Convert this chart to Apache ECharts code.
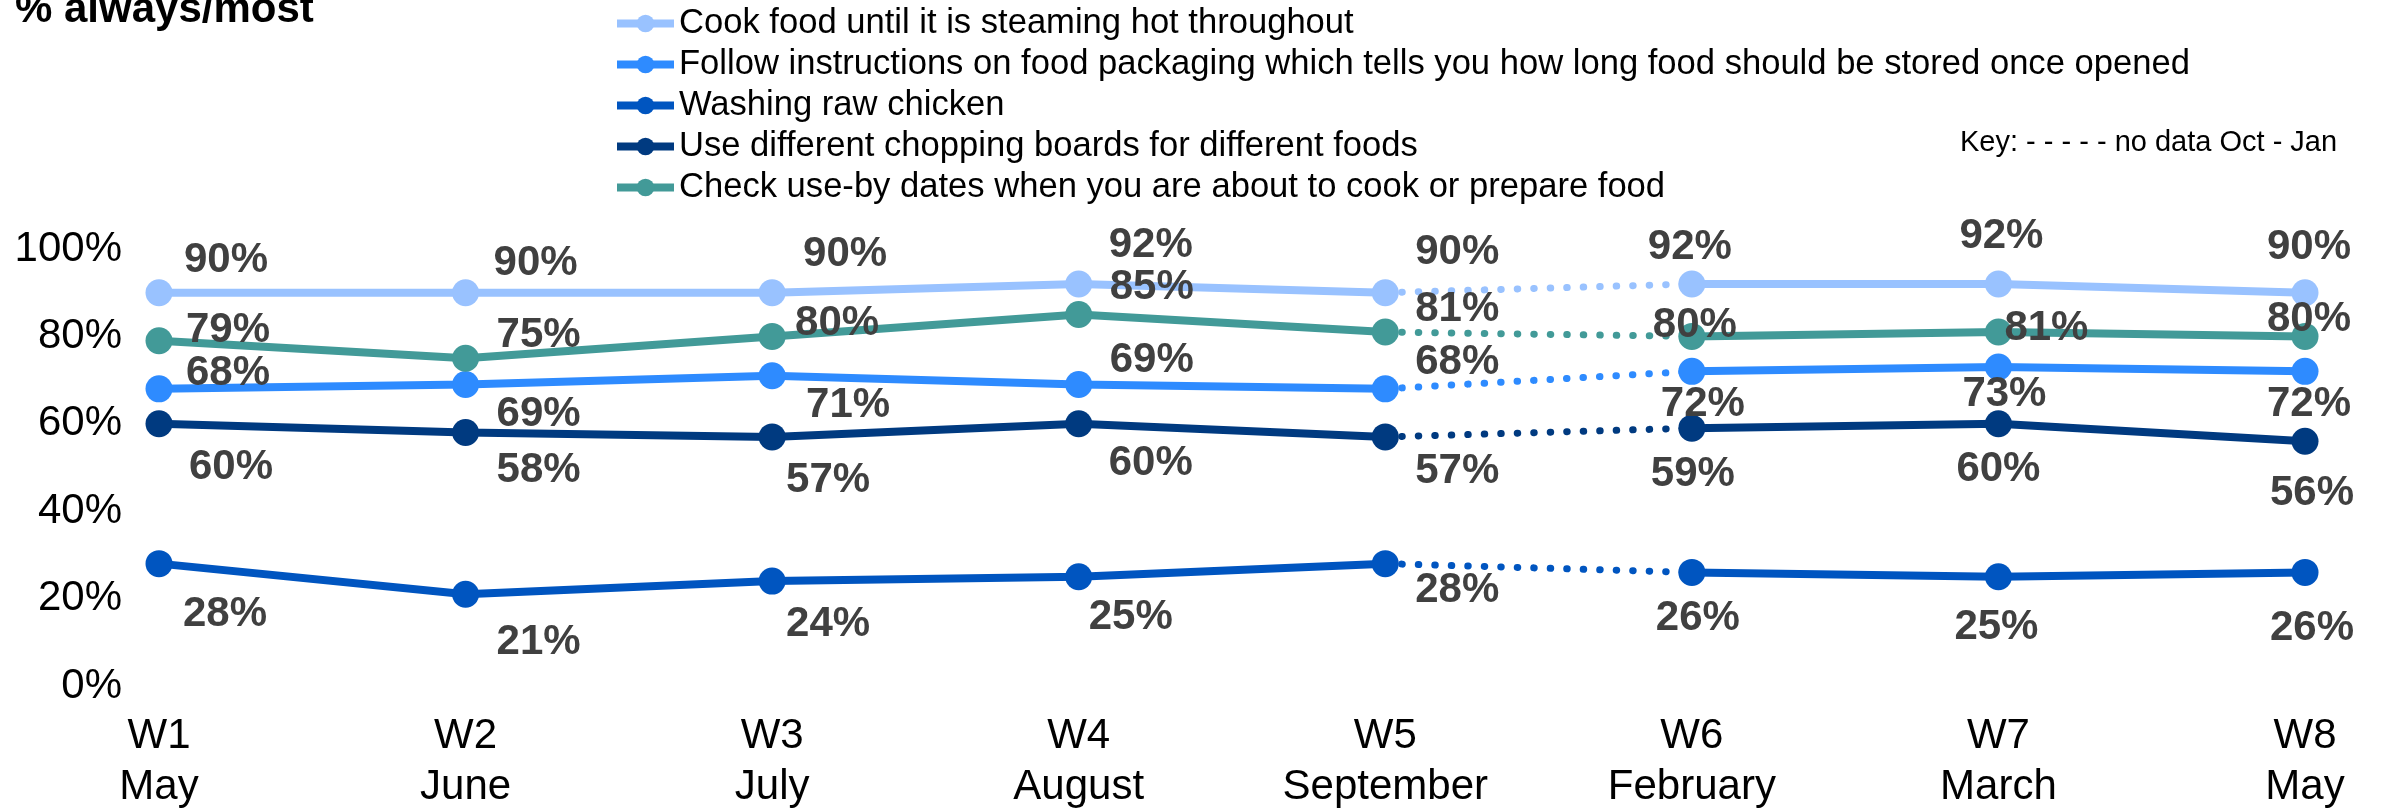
<!DOCTYPE html>
<html>
<head>
<meta charset="utf-8">
<script src="https://cdn.jsdelivr.net/npm/echarts@6/dist/echarts.min.js"></script>
<style>
html, body { margin: 0; padding: 0; background: #fff; }
#main { width: 2387px; height: 808px; }
</style>
</head>
<body>
<div id="main"></div>
<script>
// waves and fieldwork months
const waves = ['W1', 'W2', 'W3', 'W4', 'W5', 'W6', 'W7', 'W8'];
const months = ['May', 'June', 'July', 'August', 'September', 'February', 'March', 'May'];

// % always/most, per wave
const cookHot = [90, 90, 90, 92, 90, 92, 92, 90];
const followPack = [68, 69, 71, 69, 68, 72, 73, 72];
const washChicken = [28, 21, 24, 25, 28, 26, 25, 26];
const boards = [60, 58, 57, 60, 57, 59, 60, 56];
const useBy = [79, 75, 80, 85, 81, 80, 81, 80];

const names = [
    'Cook food until it is steaming hot throughout',
    'Follow instructions on food packaging which tells you how long food should be stored once opened',
    'Washing raw chicken',
    'Use different chopping boards for different foods',
    'Check use-by dates when you are about to cook or prepare food'
];
const yTicks = [0, 20, 40, 60, 80, 100];
const lastBeforeGap = 4; // W5, no data Oct - Jan after it

// styling: colours and label nudges (px from the marker centre)
const colors = ['#99C2FF', '#2E8BFF', '#0055C0', '#003A80', '#429A98'];
const labelNudge = [
    [[67, -32], [70, -29], [73, -38], [72, -39], [72, -40], [-2, -37], [3, -48], [4, -45]],
    [[69, -15], [73, 30], [76, 30], [73, -24], [72, -26], [11, 33], [6, 27], [4, 33]],
    [[66, 51], [73, 48], [56, 43], [52, 41], [72, 27], [6, 46], [-2, 51], [7, 56]],
    [[72, 44], [73, 38], [56, 44], [72, 40], [72, 35], [1, 46], [0, 46], [7, 52]],
    [[69, -10], [73, -23], [65, -13], [73, -27], [72, -23], [3, -11], [48, -4], [4, -17]]
];
const allValues = [cookHot, followPack, washChicken, boards, useBy];

const font = '"Liberation Sans", Arial, sans-serif';

function makeSeries(k) {
    const vals = allValues[k], color = colors[k], name = names[k];
    const item = (v, i) => ({ value: v, label: { offset: labelNudge[k][i] } });
    const base = {
        name: name,
        type: 'line',
        symbol: 'circle',
        symbolSize: 27,
        itemStyle: { color: color },
        lineStyle: { color: color, width: 8 },
        label: {
            show: true,
            position: 'inside',
            formatter: '{c}%',
            fontSize: 42,
            fontWeight: 'bold',
            fontFamily: font,
            color: '#404040'
        },
        z: 3
    };
    return [
        Object.assign({}, base, { data: vals.map((v, i) => i <= lastBeforeGap ? item(v, i) : '-') }),
        Object.assign({}, base, { data: vals.map((v, i) => i > lastBeforeGap ? item(v, i) : '-') }),
        {
            name: name,
            type: 'line',
            symbol: 'none',
            z: 2,
            lineStyle: { color: color, width: 7, type: [0.5, 16], cap: 'round' },
            data: vals.map((v, i) => (i === lastBeforeGap || i === lastBeforeGap + 1) ? v : '-')
        }
    ];
}

let series = [];
for (let k = 0; k < names.length; k++) series = series.concat(makeSeries(k));

const option = {
    animation: false,
    title: {
        text: '% always/most',
        left: 15,
        top: -11,
        padding: 0,
        textStyle: { fontSize: 42, fontWeight: 'bold', color: '#000', fontFamily: font }
    },
    legend: {
        data: names,
        orient: 'vertical',
        left: 613,
        top: 3,
        padding: 0,
        itemWidth: 57,
        itemHeight: 22,
        itemGap: 0,
        lineStyle: { width: 8 },
        textStyle: { fontSize: 34.6, color: '#000', lineHeight: 41, fontFamily: font }
    },
    graphic: [{
        type: 'text',
        left: 1960,
        top: 128,
        style: { text: 'Key: - - - - - no data Oct - Jan', font: '29px "Liberation Sans", Arial, sans-serif', fill: '#000' }
    }],
    grid: { left: 159, right: 82, top: 249, bottom: 122, outerBoundsMode: 'none', containLabel: false },
    xAxis: {
        type: 'category',
        boundaryGap: false,
        data: waves.map((w, i) => w + '\n' + months[i]),
        axisLine: { show: false },
        axisTick: { show: false },
        axisLabel: { fontSize: 42, lineHeight: 51, margin: 25, color: '#000', fontFamily: font, interval: 0 }
    },
    yAxis: {
        type: 'value',
        min: yTicks[0],
        max: yTicks[yTicks.length - 1],
        interval: yTicks[1] - yTicks[0],
        splitLine: { show: false },
        axisLine: { show: false },
        axisTick: { show: false },
        axisLabel: { fontSize: 42, margin: 37, color: '#000', fontFamily: font, formatter: '{value}%' }
    },
    series: series
};

const chart = echarts.init(document.getElementById('main'));
chart.setOption(option);
</script>
</body>
</html>
